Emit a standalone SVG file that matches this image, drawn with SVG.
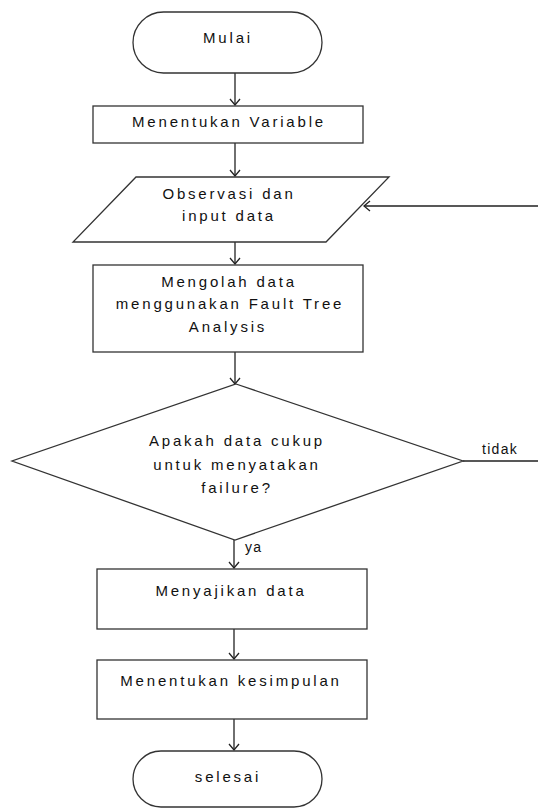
<svg xmlns="http://www.w3.org/2000/svg" width="538" height="809" viewBox="0 0 538 809">
<style>
.shape{fill:#fff;stroke:#333;stroke-width:1.3}
.conn{fill:none;stroke:#222;stroke-width:1.3}
.t{font-family:"Liberation Sans",Arial,sans-serif;font-size:15px;letter-spacing:2.8px;fill:#111;text-anchor:middle}
.lbl{font-family:"Liberation Sans",Arial,sans-serif;font-size:14px;letter-spacing:1.3px;fill:#111}
</style>
<defs>
<marker id="arr" viewBox="0 0 12 12" refX="11" refY="6" markerWidth="12" markerHeight="12" markerUnits="userSpaceOnUse" orient="auto">
<path d="M5,1 L11,6 L5,11" fill="none" stroke="#222" stroke-width="1.3"/>
</marker>
</defs>
<rect width="538" height="809" fill="#fff"/>
<g id="connectors">
<path class="conn" d="M235,73 V105" marker-end="url(#arr)"/>
<path class="conn" d="M235,143 V176" marker-end="url(#arr)"/>
<path class="conn" d="M235,242 V264" marker-end="url(#arr)"/>
<path class="conn" d="M235,352 V384" marker-end="url(#arr)"/>
<path class="conn" d="M234,540 V568" marker-end="url(#arr)"/>
<path class="conn" d="M234,629 V659" marker-end="url(#arr)"/>
<path class="conn" d="M234,719 V750" marker-end="url(#arr)"/>
<path class="conn" d="M463,461 H541 V206 H364" marker-end="url(#arr)"/>
<text class="lbl" x="482" y="454">tidak</text>
<text class="lbl" x="245" y="552">ya</text>
</g>
<g id="mulai">
<rect class="shape" x="133" y="12" width="189" height="61" rx="30.5"/>
<text class="t" x="228" y="43">Mulai</text>
</g>
<g id="menentukan-variable">
<rect class="shape" x="93" y="106" width="270" height="37"/>
<text class="t" x="229" y="127">Menentukan Variable</text>
</g>
<g id="observasi">
<polygon class="shape" points="136,177 389,177 326,242 73,242"/>
<text class="t" x="229" y="199">Observasi dan</text>
<text class="t" x="229" y="221">input data</text>
</g>
<g id="mengolah">
<rect class="shape" x="93" y="265" width="270" height="87"/>
<text class="t" x="229" y="287">Mengolah data</text>
<text class="t" x="230" y="309">menggunakan Fault Tree</text>
<text class="t" x="228" y="332">Analysis</text>
</g>
<g id="keputusan">
<polygon class="shape" points="236,384 463,461 235,540 12,461"/>
<text class="t" x="237" y="446">Apakah data cukup</text>
<text class="t" x="237" y="470">untuk menyatakan</text>
<text class="t" x="237" y="493">failure?</text>
</g>
<g id="menyajikan">
<rect class="shape" x="97" y="569" width="270" height="60"/>
<text class="t" x="231" y="596">Menyajikan data</text>
</g>
<g id="kesimpulan">
<rect class="shape" x="97" y="660" width="270" height="59"/>
<text class="t" x="231" y="686">Menentukan kesimpulan</text>
</g>
<g id="selesai">
<rect class="shape" x="133" y="751" width="189" height="56" rx="28"/>
<text class="t" x="228" y="782">selesai</text>
</g>
</svg>
